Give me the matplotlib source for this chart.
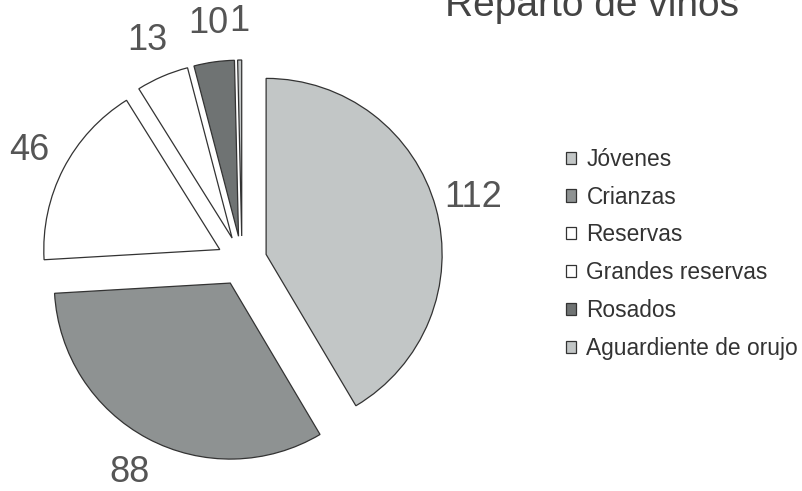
import matplotlib
matplotlib.use("Agg")
import matplotlib.pyplot as plt

plt.rcParams['font.family'] = ['Liberation Sans', 'DejaVu Sans']

# data
categories = ['Jóvenes', 'Crianzas', 'Reservas', 'Grandes reservas', 'Rosados', 'Aguardiente de orujo']
values = [112, 88, 46, 13, 10, 1]
colors = ['#c2c6c6', '#8e9292', '#ffffff', '#ffffff', '#6f7373', '#c2c6c6']
title = 'Reparto de vinos'

W, H = 803, 491
fig = plt.figure(figsize=(W / 100, H / 100), dpi=100)
# axes in pixel units over the whole figure
ax = fig.add_axes([0, 0, 1, 1])

radius = 176
gap = 25  # explode offset, in pixels (pie uses data units)
wedges, texts = ax.pie(values, labels=[str(v) for v in values], colors=colors,
                       startangle=90, counterclock=False,
                       center=(242, 230), radius=radius,
                       explode=[gap] * len(values),
                       labeldistance=1.22, frame=True,
                       wedgeprops=dict(edgecolor='#333333', linewidth=0.9),
                       textprops=dict(fontsize=26, color='#555555'))
for t in texts:
    t.set_ha('center')
ax.set_xlim(0, W)
ax.set_ylim(0, H)
ax.set_aspect('equal')
ax.axis('off')

fig.text(592 / W, 0.967, title, ha='center', va='baseline', fontsize=28, color='#444444')

ax.legend(wedges, categories, loc='upper left', bbox_to_anchor=(566 / W, 0.699),
          bbox_transform=fig.transFigure, frameon=False, fontsize=16.4,
          labelspacing=0.65, handlelength=0.45, handleheight=0.45,
          handletextpad=0.45, borderpad=0, borderaxespad=0,
          labelcolor='#333333')

fig.savefig('out.png', dpi=100)
